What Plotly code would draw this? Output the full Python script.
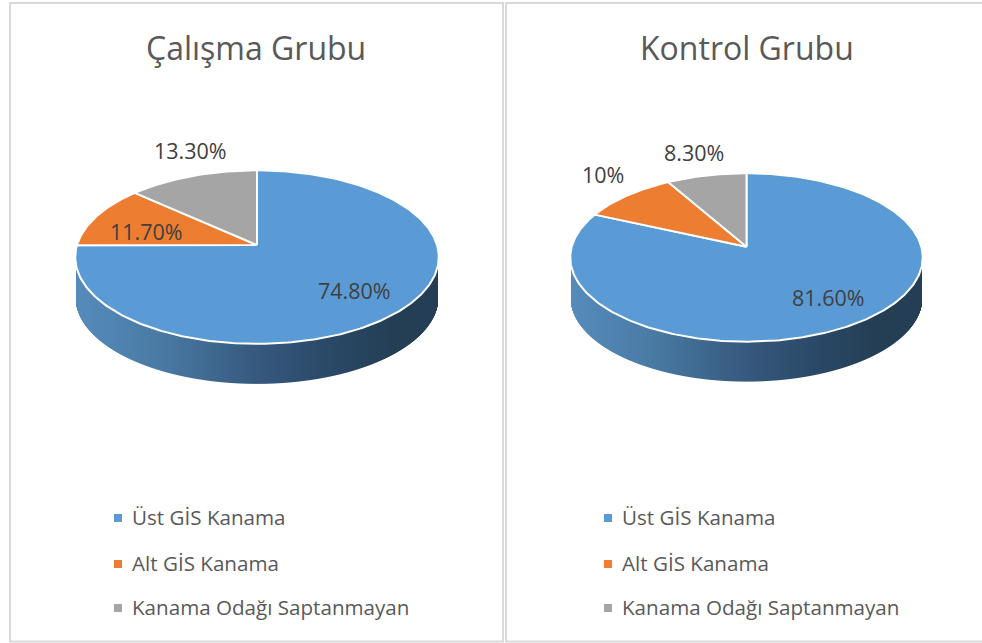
# -*- coding: utf-8 -*-
"""Two tilted 3D-style pies (Çalışma / Kontrol Grubu) drawn on a pixel-sized axis."""

import math

import plotly.graph_objects as go

CATEGORIES = ["Üst GİS Kanama", "Alt GİS Kanama", "Kanama Odağı Saptanmayan"]
STUDY_VALUES = [74.8, 11.7, 13.3]
CONTROL_VALUES = [81.6, 10, 8.3]
STUDY_LABELS = ["74.80%", "11.70%", "13.30%"]
CONTROL_LABELS = ["81.60%", "10%", "8.30%"]
TITLES = ["Çalışma Grubu", "Kontrol Grubu"]

COLORS = ["#5b9bd5", "#ed7d31", "#a5a5a5"]
WALL_STOPS = [(0.0, (86, 140, 188)), (0.23, (74, 123, 165)), (0.5, (55, 89, 126)),
              (0.69, (43, 74, 105)), (0.88, (36, 62, 84)), (1.0, (36, 64, 86))]
W, H = 982, 643
DEPTH = 40
LEGEND_ROWS = [517, 563, 607]


def project(pie, angle):
    """clockwise angle from 12 o'clock -> screen position, with a bit of perspective"""
    u, v = math.sin(angle), math.cos(angle)
    d = 1 - pie["k"] * v
    return pie["cx"] + pie["rx"] * u / d, pie["cy"] - pie["b"] * v / d


def front_edge_y(pie, x):
    """y of the front rim at screen column x (bisect on the angle)"""
    lo = math.acos(pie["k"])
    hi = 2 * math.pi - lo
    for _ in range(30):
        mid = (lo + hi) / 2
        if project(pie, mid)[0] > x:
            lo = mid
        else:
            hi = mid
    return project(pie, lo)[1]


def wall_color(f):
    for (f0, c0), (f1, c1) in zip(WALL_STOPS, WALL_STOPS[1:]):
        if f <= f1:
            t = (f - f0) / (f1 - f0)
            return "rgb(%d,%d,%d)" % tuple(a + (b - a) * t for a, b in zip(c0, c1))
    return "rgb(%d,%d,%d)" % WALL_STOPS[-1][1]


def add_pie(fig, values, pie):
    # side wall: one pixel wide columns coloured by horizontal position
    left = project(pie, 2 * math.pi - math.acos(pie["k"]))[0]
    right = project(pie, math.acos(pie["k"]))[0]
    for col in range(math.ceil(left), math.floor(right)):
        x = col + 0.5
        y = front_edge_y(pie, x)
        fig.add_trace(go.Scatter(
            x=[x, x], y=[y - 2, y + DEPTH], mode="lines",
            line=dict(color=wall_color((x - left) / (right - left)), width=1),
            hoverinfo="skip", showlegend=False,
        ))

    # top face
    total = sum(values)
    start = 0
    for value, color in zip(values, COLORS):
        sweep = value / total * 2 * math.pi
        steps = max(2, int(value * 4))
        pts = [project(pie, start + sweep * j / steps) for j in range(steps + 1)]
        xs = [pie["cx"]] + [p[0] for p in pts] + [pie["cx"]]
        ys = [pie["cy"]] + [p[1] for p in pts] + [pie["cy"]]
        fig.add_trace(go.Scatter(
            x=xs, y=ys, mode="lines", fill="toself", fillcolor=color,
            line=dict(color="white", width=2), hoverinfo="skip", showlegend=False,
        ))
        start += sweep


def add_labels(fig, labels, places):
    for text, (x, y) in zip(labels, places):
        fig.add_annotation(x=x, y=y, xref="x", yref="y", text=text, showarrow=False,
                           font=dict(family="Open Sans", size=21.5, color="#404040"))


def add_legend(fig, swatch_x):
    for cat, color, row in zip(CATEGORIES, COLORS, LEGEND_ROWS):
        fig.add_trace(go.Scatter(
            x=[swatch_x], y=[row + 1], mode="markers",
            marker=dict(symbol="square", size=8, color=color),
            hoverinfo="skip", showlegend=False,
        ))
        fig.add_annotation(x=swatch_x + 12, y=row, xref="x", yref="y", text=cat,
                           xanchor="left", showarrow=False,
                           font=dict(family="Open Sans", size=20.6, color="#595959"))


fig = go.Figure()

add_pie(fig, STUDY_VALUES, dict(cx=257, cy=245, rx=180, b=85.1, k=-0.1395))
add_pie(fig, CONTROL_VALUES, dict(cx=746.5, cy=246.7, rx=174.8, b=82.8, k=-0.1278))

add_labels(fig, STUDY_LABELS, [(354, 290), (146, 231), (190, 150)])
add_labels(fig, CONTROL_LABELS, [(828, 297), (603, 174), (694, 152)])

add_legend(fig, 118)
add_legend(fig, 608)

# panel frames, the right one runs off the page
for x0, x1 in [(10, 503), (506, 1000)]:
    fig.add_shape(type="rect", x0=x0, x1=x1, y0=3, y1=641.5, xref="x", yref="y",
                  line=dict(color="#d9d9d9", width=2), layer="below")

for text, x in zip(TITLES, [256, 747]):
    fig.add_annotation(x=x, y=47, xref="x", yref="y", text=text, showarrow=False,
                       font=dict(family="Open Sans", size=32, color="#595959"))

fig.update_layout(
    width=W, height=H, autosize=False,
    margin=dict(l=0, r=0, t=0, b=0),
    paper_bgcolor="white", plot_bgcolor="white",
    xaxis=dict(range=[0, W], visible=False, fixedrange=True),
    yaxis=dict(range=[H, 0], visible=False, fixedrange=True),
    showlegend=False,
    hovermode=False,
)

# the page's default body margin would push the figure off the window
fig.write_html("out.html", config=dict(displayModeBar=False),
               post_script="document.body.style.margin='0';document.body.style.overflow='hidden';")
